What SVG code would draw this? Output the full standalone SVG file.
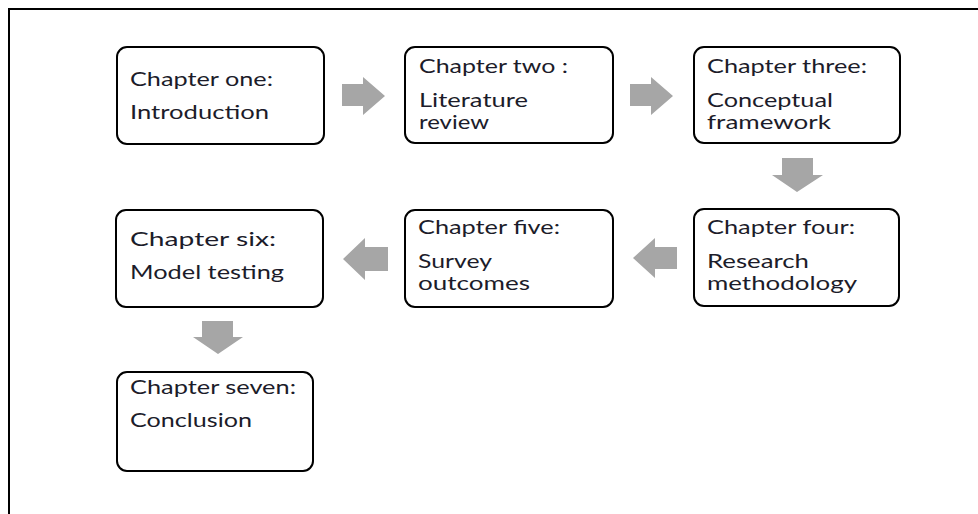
<svg xmlns="http://www.w3.org/2000/svg" width="978" height="514" viewBox="0 0 978 514">
  <style>
    .box { fill: #ffffff; stroke: #000000; stroke-width: 2; }
    .lbl { font-family: "Lato", "Open Sans", "Liberation Sans", sans-serif; font-size: 20px; fill: #1c1c2a; }
    .arrow { fill: #a6a6a6; stroke: none; }
  </style>

  <!-- outer frame (top and left edges) -->
  <rect x="0" y="0" width="978" height="514" fill="#ffffff"/>
  <path d="M9,514 V9 H978" fill="none" stroke="#000000" stroke-width="2"/>

  <!-- block arrows between chapters -->
  <g id="connectors">
    <polygon class="arrow" points="342,84 363,84 363,77 385,96 363,115 363,106 342,106"/>
    <polygon class="arrow" points="630,84 651,84 651,77 673,96 651,115 651,106 630,106"/>
    <polygon class="arrow" points="782,158 813,158 813,175 823,175 797,192 772,175 782,175"/>
    <polygon class="arrow" points="677,247 655,247 655,238 633,258 655,278 655,269 677,269"/>
    <polygon class="arrow" points="388,247 365,247 365,238 343,259 365,280 365,271 388,271"/>
    <polygon class="arrow" points="202,321 233,321 233,337 243,337 218,354 193,337 202,337"/>
  </g>

  <g id="chapter1">
    <rect class="box" x="117" y="47" width="207" height="97" rx="10"/>
    <text class="lbl" x="130" y="86" textLength="143" lengthAdjust="spacingAndGlyphs">Chapter one:</text>
    <text class="lbl" x="130" y="119" textLength="139" lengthAdjust="spacingAndGlyphs">Introduction</text>
  </g>

  <g id="chapter2">
    <rect class="box" x="405" y="47" width="208" height="96" rx="10"/>
    <text class="lbl" x="419" y="73" textLength="149" lengthAdjust="spacingAndGlyphs">Chapter two :</text>
    <text class="lbl" x="419" y="107" textLength="109" lengthAdjust="spacingAndGlyphs">Literature</text>
    <text class="lbl" x="419" y="129" textLength="70" lengthAdjust="spacingAndGlyphs">review</text>
  </g>

  <g id="chapter3">
    <rect class="box" x="694" y="47" width="206" height="96" rx="10"/>
    <text class="lbl" x="707" y="73" textLength="160" lengthAdjust="spacingAndGlyphs">Chapter three:</text>
    <text class="lbl" x="707" y="107" textLength="126" lengthAdjust="spacingAndGlyphs">Conceptual</text>
    <text class="lbl" x="707" y="129" textLength="124" lengthAdjust="spacingAndGlyphs">framework</text>
  </g>

  <g id="chapter4">
    <rect class="box" x="694" y="209" width="205" height="97" rx="10"/>
    <text class="lbl" x="707" y="234" textLength="148" lengthAdjust="spacingAndGlyphs">Chapter four:</text>
    <text class="lbl" x="707" y="268" textLength="102" lengthAdjust="spacingAndGlyphs">Research</text>
    <text class="lbl" x="707" y="290" textLength="150" lengthAdjust="spacingAndGlyphs">methodology</text>
  </g>

  <g id="chapter5">
    <rect class="box" x="405" y="210" width="208" height="97" rx="10"/>
    <text class="lbl" x="418" y="234" textLength="142" lengthAdjust="spacingAndGlyphs">Chapter five:</text>
    <text class="lbl" x="418" y="268" textLength="74" lengthAdjust="spacingAndGlyphs">Survey</text>
    <text class="lbl" x="418" y="290" textLength="112" lengthAdjust="spacingAndGlyphs">outcomes</text>
  </g>

  <g id="chapter6">
    <rect class="box" x="116" y="210" width="207" height="97" rx="10"/>
    <text class="lbl" x="130" y="246" textLength="146" lengthAdjust="spacingAndGlyphs">Chapter six:</text>
    <text class="lbl" x="130" y="279" textLength="154" lengthAdjust="spacingAndGlyphs">Model testing</text>
  </g>

  <g id="chapter7">
    <rect class="box" x="117" y="372" width="196" height="99" rx="10"/>
    <text class="lbl" x="130" y="394" textLength="166" lengthAdjust="spacingAndGlyphs">Chapter seven:</text>
    <text class="lbl" x="130" y="427" textLength="122" lengthAdjust="spacingAndGlyphs">Conclusion</text>
  </g>
</svg>
